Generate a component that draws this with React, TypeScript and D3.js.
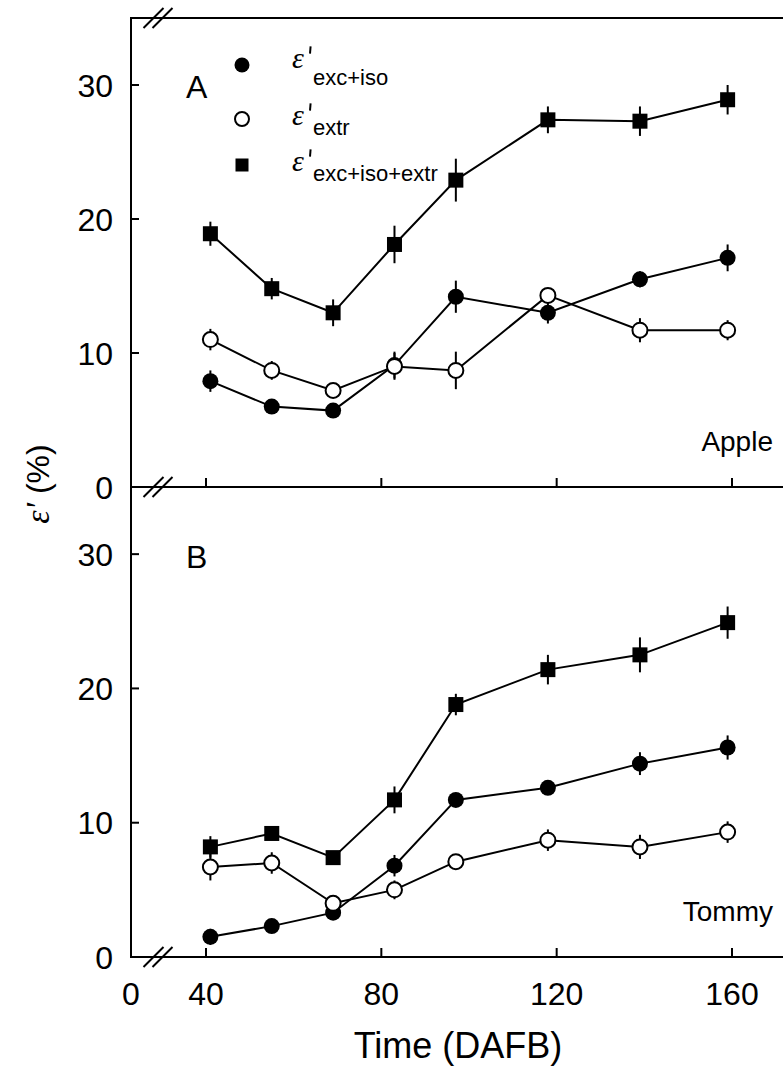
import { scaleLinear, line } from 'd3'

const days = [41, 55, 69, 83, 97, 118, 139, 159]

const appleExcIso = [7.9, 6.0, 5.7, 9.1, 14.2, 13.0, 15.5, 17.1]
const appleExcIsoErr = [0.8, 0.5, 0.4, 1.0, 1.2, 0.8, 0.6, 1.0]
const appleExtr = [11.0, 8.7, 7.2, 9.0, 8.7, 14.3, 11.7, 11.7]
const appleExtrErr = [0.8, 0.7, 0.5, 1.0, 1.4, 0.5, 0.9, 0.75]
const appleTotal = [18.9, 14.8, 13.0, 18.1, 22.9, 27.4, 27.3, 28.9]
const appleTotalErr = [0.9, 0.8, 1.0, 1.4, 1.6, 1.0, 1.1, 1.1]

const tommyExcIso = [1.5, 2.3, 3.3, 6.8, 11.7, 12.6, 14.4, 15.6]
const tommyExcIsoErr = [0.6, 0.5, 0.3, 0.8, 0.5, 0.4, 0.85, 0.9]
const tommyExtr = [6.7, 7.0, 4.0, 5.0, 7.1, 8.7, 8.2, 9.3]
const tommyExtrErr = [1.0, 0.8, 0.4, 0.7, 0.4, 0.8, 0.9, 0.8]
const tommyTotal = [8.2, 9.2, 7.4, 11.7, 18.8, 21.4, 22.5, 24.9]
const tommyTotalErr = [0.8, 0.5, 0.3, 1.0, 0.8, 1.1, 1.3, 1.2]

const xTicks = [40, 80, 120, 160]
const yTicks = [0, 10, 20, 30]
const legendSubs = ['exc+iso', 'extr', 'exc+iso+extr']

type Marker = 'filled' | 'open' | 'square'

const W = 783
const H = 1068
const axisX = 131
const rightEdge = 783
const sans = 'Liberation Sans, Arial, sans-serif'
const serif = 'Liberation Serif, Times New Roman, serif'

const x = scaleLinear().domain([40, 160]).range([206, 732])

const panels = [
  {
    label: 'A',
    name: 'Apple',
    y: scaleLinear().domain([0, 35]).range([487, 18]),
    series: [
      { v: appleExcIso, e: appleExcIsoErr, m: 'filled' as Marker },
      { v: appleExtr, e: appleExtrErr, m: 'open' as Marker },
      { v: appleTotal, e: appleTotalErr, m: 'square' as Marker },
    ],
  },
  {
    label: 'B',
    name: 'Tommy',
    y: scaleLinear().domain([0, 35]).range([957, 487]),
    series: [
      { v: tommyExcIso, e: tommyExcIsoErr, m: 'filled' as Marker },
      { v: tommyExtr, e: tommyExtrErr, m: 'open' as Marker },
      { v: tommyTotal, e: tommyTotalErr, m: 'square' as Marker },
    ],
  },
]

function MarkerShape({ cx, cy, m, size }: { cx: number; cy: number; m: Marker; size: number }) {
  if (m === 'square') {
    return <rect x={cx - size} y={cy - size} width={size * 2} height={size * 2} fill="#000" />
  }
  if (m === 'open') {
    return <circle cx={cx} cy={cy} r={size - 0.5} fill="#fff" stroke="#000" strokeWidth={2} />
  }
  return <circle cx={cx} cy={cy} r={size} fill="#000" />
}

function Break({ cx, cy }: { cx: number; cy: number }) {
  return (
    <g stroke="#000" strokeWidth={2}>
      {[-4.5, 4.5].map((o) => (
        <line key={o} x1={cx + o - 10} y1={cy + 10} x2={cx + o + 10} y2={cy - 10} />
      ))}
    </g>
  )
}

// epsilon with an upright prime, as in the original figure
function Eps({ x0, y0, size }: { x0: number; y0: number; size: number }) {
  return (
    <g>
      <text x={x0} y={y0} fontFamily={serif} fontStyle="italic" fontSize={size}>
        ε
      </text>
      <line
        x1={x0 + size * 0.62}
        y1={y0 - size * 0.72}
        x2={x0 + size * 0.6}
        y2={y0 - size * 0.48}
        stroke="#000"
        strokeWidth={2}
      />
    </g>
  )
}

export default function App() {
  return (
    <svg
      width={W}
      height={H}
      viewBox={`0 0 ${W} ${H}`}
      style={{ position: 'absolute', left: 0, top: 0, background: '#fff' }}
      fontFamily={sans}
    >
      <rect width={W} height={H} fill="#fff" />
      {/* frame */}
      <line x1={axisX} y1={18} x2={rightEdge} y2={18} stroke="#000" strokeWidth={2} />
      <line x1={axisX} y1={17} x2={axisX} y2={958} stroke="#000" strokeWidth={2} />
      <Break cx={158} cy={18} />

      {panels.map((p) => {
        const y0 = p.y(0)
        return (
          <g key={p.label}>
            <line x1={axisX} y1={y0} x2={rightEdge} y2={y0} stroke="#000" strokeWidth={2} />
            <Break cx={158} cy={y0} />
            {xTicks.map((t) => (
              <line key={t} x1={x(t)} y1={y0} x2={x(t)} y2={y0 - 9} stroke="#000" strokeWidth={2} />
            ))}
            {yTicks.map((t) => (
              <g key={t}>
                <line x1={axisX} y1={p.y(t)} x2={axisX + 8} y2={p.y(t)} stroke="#000" strokeWidth={2} />
                <text x={113} y={p.y(t)} dy="0.36em" textAnchor="end" fontSize={32}>
                  {t}
                </text>
              </g>
            ))}
            <text x={186} y={p.y(0) - 389} fontSize={32}>
              {p.label}
            </text>
            <text x={773} y={y0 - 36} textAnchor="end" fontSize={28}>
              {p.name}
            </text>
            {p.series.map((s, si) => {
              const path = line<number>()
                .x((_, i) => x(days[i]))
                .y((d) => p.y(d))(s.v)
              return (
                <g key={si}>
                  <path d={path ?? ''} fill="none" stroke="#000" strokeWidth={2} />
                  {s.v.map((v, i) => (
                    <line
                      key={`e${i}`}
                      x1={x(days[i])}
                      x2={x(days[i])}
                      y1={p.y(v - s.e[i])}
                      y2={p.y(v + s.e[i])}
                      stroke="#000"
                      strokeWidth={2}
                    />
                  ))}
                  {s.v.map((v, i) => (
                    <MarkerShape key={`m${i}`} cx={x(days[i])} cy={p.y(v)} m={s.m} size={s.m === 'square' ? 7.5 : 8} />
                  ))}
                </g>
              )
            })}
          </g>
        )
      })}

      {/* legend */}
      {legendSubs.map((sub, i) => {
        const ly = [65, 119, 165][i]
        const m: Marker = (['filled', 'open', 'square'] as Marker[])[i]
        return (
          <g key={sub}>
            <MarkerShape cx={242} cy={ly} m={m} size={m === 'square' ? 6.5 : 7.5} />
            <Eps x0={292} y0={ly + (i === 0 ? 3 : 6)} size={30} />
            <text x={313} y={ly + (i === 0 ? 20 : 16)} fontSize={22}>
              {sub}
            </text>
          </g>
        )
      })}

      {/* x tick labels */}
      <text x={axisX} y={1005} textAnchor="middle" fontSize={32}>
        0
      </text>
      {xTicks.map((t) => (
        <text key={t} x={x(t)} y={1005} textAnchor="middle" fontSize={32}>
          {t}
        </text>
      ))}
      <text x={458} y={1058} textAnchor="middle" fontSize={36}>
        Time (DAFB)
      </text>

      {/* y title */}
      <text transform="translate(49,484) rotate(-90)" textAnchor="middle" fontSize={32}>
        <tspan fontFamily={serif} fontStyle="italic" fontSize={34}>
          ε'
        </tspan>
        <tspan> (%)</tspan>
      </text>
    </svg>
  )
}
